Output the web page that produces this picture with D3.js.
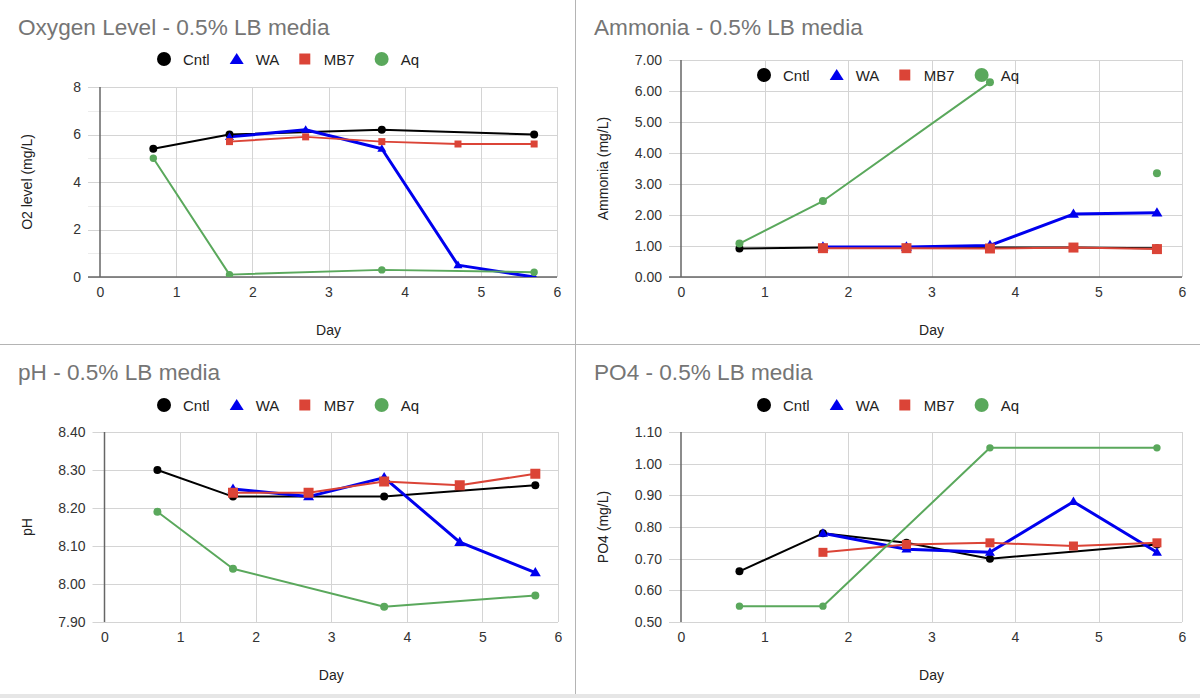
<!DOCTYPE html>
<html>
<head>
<meta charset="utf-8">
<script src="https://cdn.jsdelivr.net/npm/d3@7/dist/d3.min.js"></script>
<style>
  html, body { margin: 0; padding: 0; background: #fff; }
  svg { display: block; font-family: "Liberation Sans", Arial, sans-serif; }
</style>
</head>
<body>
<svg id="chart" width="1200" height="698"></svg>
<script>
// ---------------- DATA ----------------
const days = [0.7, 1.7, 2.7, 3.7, 4.7, 5.7];
const seriesNames = ["Cntl", "WA", "MB7", "Aq"];
const xTicks = [0, 1, 2, 3, 4, 5, 6];

// Oxygen level (mg/L)
const oxygenCntl = [5.4, 6.0, null, 6.2, null, 6.0];
const oxygenWA   = [null, 5.9, 6.2, 5.4, 0.5, 0.0];
const oxygenMB7  = [null, 5.7, 5.9, 5.7, 5.6, 5.6];
const oxygenAq   = [5.0, 0.1, null, 0.3, null, 0.2];
const oxygenTicks = [0, 2, 4, 6, 8];
const oxygenMinorTicks = [1, 3, 5, 7];

// Ammonia (mg/L)
const ammoniaCntl = [0.92, 0.95, 0.95, 0.95, 0.95, 0.93];
const ammoniaWA   = [null, 0.97, 0.97, 1.02, 2.03, 2.07];
const ammoniaMB7  = [null, 0.93, 0.93, 0.92, 0.95, 0.90];
const ammoniaAq   = [1.08, 2.45, null, 6.28, null, 3.35];
const ammoniaAqBreakBefore = [5];   // line not joined into this point
const ammoniaTicks = [0, 1, 2, 3, 4, 5, 6, 7];

// pH
const phCntl = [8.30, 8.23, null, 8.23, null, 8.26];
const phWA   = [null, 8.25, 8.23, 8.28, 8.11, 8.03];
const phMB7  = [null, 8.24, 8.24, 8.27, 8.26, 8.29];
const phAq   = [8.19, 8.04, null, 7.94, null, 7.97];
const phTicks = [7.9, 8.0, 8.1, 8.2, 8.3, 8.4];

// PO4 (mg/L)
const po4Cntl = [0.66, 0.78, 0.75, 0.70, null, 0.745];
const po4WA   = [null, 0.78, 0.73, 0.72, 0.88, 0.72];
const po4MB7  = [null, 0.72, 0.745, 0.75, 0.74, 0.75];
const po4Aq   = [0.55, 0.55, null, 1.05, null, 1.05];
const po4Ticks = [0.5, 0.6, 0.7, 0.8, 0.9, 1.0, 1.1];

// ---------------- STYLE ----------------
const colors = { Cntl: "#000000", WA: "#0000ee", MB7: "#db4437", Aq: "#5aa85c" };
const shapes = { Cntl: "circle", WA: "triangle", MB7: "square", Aq: "circle" };
const lineW  = { Cntl: 2, WA: 3, MB7: 2, Aq: 2 };

const panels = [
  { title: "Oxygen Level - 0.5% LB media", yTitle: "O2 level (mg/L)",
    data: { Cntl: oxygenCntl, WA: oxygenWA, MB7: oxygenMB7, Aq: oxygenAq },
    breaks: {}, ticks: oxygenTicks, minor: oxygenMinorTicks, fmt: d3.format("d"), baseline: true,
    px: 0, pw: 576, x0: 100, x6: 557, yTop: 87, yBot: 277, titleY: 35, legendY: 59, yTitleX: 27, xTitleY: 335,
    sizes: { Cntl: 4, WA: 9, MB7: 7, Aq: 3.7 } },
  { title: "Ammonia - 0.5% LB media", yTitle: "Ammonia (mg/L)",
    data: { Cntl: ammoniaCntl, WA: ammoniaWA, MB7: ammoniaMB7, Aq: ammoniaAq },
    breaks: { Aq: ammoniaAqBreakBefore }, ticks: ammoniaTicks, minor: [], fmt: d3.format(".2f"), baseline: true,
    px: 576, pw: 624, x0: 681, x6: 1182, yTop: 60, yBot: 277, titleY: 35, legendY: 75, yTitleX: 603, xTitleY: 335,
    sizes: { Cntl: 4, WA: 11, MB7: 10, Aq: 4 } },
  { title: "pH - 0.5% LB media", yTitle: "pH",
    data: { Cntl: phCntl, WA: phWA, MB7: phMB7, Aq: phAq },
    breaks: {}, ticks: phTicks, minor: [], fmt: d3.format(".2f"), baseline: false,
    px: 0, pw: 576, x0: 104.5, x6: 558, yTop: 432, yBot: 622, titleY: 380, legendY: 405, yTitleX: 27, xTitleY: 680,
    sizes: { Cntl: 4, WA: 11, MB7: 10, Aq: 4 } },
  { title: "PO4 - 0.5% LB media", yTitle: "PO4 (mg/L)",
    data: { Cntl: po4Cntl, WA: po4WA, MB7: po4MB7, Aq: po4Aq },
    breaks: {}, ticks: po4Ticks, minor: [], fmt: d3.format(".2f"), baseline: false,
    px: 576, pw: 624, x0: 681, x6: 1182, yTop: 432, yBot: 622, titleY: 380, legendY: 405, yTitleX: 603, xTitleY: 680,
    sizes: { Cntl: 4, WA: 10, MB7: 9, Aq: 3.7 } }
];

const svg = d3.select("#chart");

// panel separators
svg.append("line").attr("x1", 575.5).attr("x2", 575.5).attr("y1", 0).attr("y2", 698)
  .attr("stroke", "#b4b4b4").attr("stroke-width", 1);
svg.append("line").attr("x1", 0).attr("x2", 1200).attr("y1", 344.5).attr("y2", 344.5)
  .attr("stroke", "#b4b4b4").attr("stroke-width", 1);
svg.append("rect").attr("x", 0).attr("y", 694).attr("width", 1200).attr("height", 4).attr("fill", "#e6e6e6");

function markerPath(shape, size) {
  if (shape === "circle") return d3.symbol(d3.symbolCircle, Math.PI * size * size)();
  if (shape === "square") { const h = size / 2; return `M${-h},${-h}H${h}V${h}H${-h}Z`; }
  const w = size / 2, hh = size * 0.85;
  return `M0,${-hh * 0.6}L${w},${hh * 0.4}L${-w},${hh * 0.4}Z`;
}

panels.forEach((p, pi) => {
  const g = svg.append("g");
  const gridLeft = p.x0 - 12;
  const x = d3.scaleLinear().domain([0, 6]).range([p.x0, p.x6]);
  const y = d3.scaleLinear().domain([p.ticks[0], p.ticks[p.ticks.length - 1]]).range([p.yBot, p.yTop]);

  // title
  g.append("text").attr("x", p.px + 18).attr("y", p.titleY).text(p.title)
    .attr("font-size", 22.6).attr("fill", "#757575");

  // minor gridlines
  g.selectAll(null).data(p.minor).join("line")
    .attr("x1", gridLeft).attr("x2", p.x6).attr("y1", d => Math.round(y(d)) + 0.5).attr("y2", d => Math.round(y(d)) + 0.5)
    .attr("stroke", "#ececec").attr("stroke-width", 1);
  // major horizontal gridlines
  g.selectAll(null).data(p.ticks).join("line")
    .attr("x1", gridLeft).attr("x2", p.x6).attr("y1", d => Math.round(y(d)) + 0.5).attr("y2", d => Math.round(y(d)) + 0.5)
    .attr("stroke", "#d4d4d4").attr("stroke-width", 1);
  // vertical gridlines
  g.selectAll(null).data(xTicks.filter(d => d > 0)).join("line")
    .attr("x1", d => Math.round(x(d)) + 0.5).attr("x2", d => Math.round(x(d)) + 0.5)
    .attr("y1", p.yTop).attr("y2", p.yBot)
    .attr("stroke", "#d4d4d4").attr("stroke-width", 1);

  // baselines
  if (p.baseline) {
    g.append("line").attr("x1", gridLeft).attr("x2", p.x6).attr("y1", y(0)).attr("y2", y(0))
      .attr("stroke", "#666").attr("stroke-width", 1.5);
  }
  g.append("line").attr("x1", x(0)).attr("x2", x(0)).attr("y1", p.yTop).attr("y2", p.yBot)
    .attr("stroke", "#666").attr("stroke-width", 1.5);

  // y tick labels via axis
  const yAxis = d3.axisLeft(y).tickValues(p.ticks).tickFormat(p.fmt).tickSize(0).tickPadding(19);
  const ya = g.append("g").attr("transform", `translate(${p.x0},0)`).call(yAxis);
  ya.select(".domain").remove();
  ya.selectAll("text").attr("font-size", 14).attr("fill", "#333").attr("font-family", "Liberation Sans, Arial, sans-serif");

  // x tick labels via axis
  const xAxis = d3.axisBottom(x).tickValues(xTicks).tickFormat(d3.format("d")).tickSize(0).tickPadding(10);
  const xa = g.append("g").attr("transform", `translate(0,${p.yBot})`).call(xAxis);
  xa.select(".domain").remove();
  xa.selectAll("text").attr("font-size", 14).attr("fill", "#333").attr("font-family", "Liberation Sans, Arial, sans-serif");

  // axis titles
  g.append("text").attr("x", (p.x0 + p.x6) / 2).attr("y", p.xTitleY).attr("text-anchor", "middle")
    .attr("font-size", 14).attr("fill", "#222").text("Day");
  g.append("text").attr("transform", `translate(${p.yTitleX},${(p.yTop + p.yBot) / 2}) rotate(-90)`)
    .attr("text-anchor", "middle").attr("dominant-baseline", "central")
    .attr("font-size", 14).attr("fill", "#222").text(p.yTitle);

  // clip
  const clipId = "clip" + pi;
  svg.append("clipPath").attr("id", clipId).append("rect")
    .attr("x", gridLeft).attr("y", p.yTop).attr("width", p.x6 - gridLeft).attr("height", p.yBot - p.yTop);
  const plot = g.append("g").attr("clip-path", `url(#${clipId})`);

  // lines
  seriesNames.forEach(s => {
    const vals = p.data[s];
    const brk = p.breaks[s] || [];
    const pts = days.map((d, i) => ({ d, v: vals[i], i })).filter(o => o.v !== null);
    const segs = [];
    let cur = [];
    pts.forEach(o => {
      if (brk.includes(o.i) && cur.length) { segs.push(cur); cur = []; }
      cur.push(o);
    });
    if (cur.length) segs.push(cur);
    const line = d3.line().x(o => x(o.d)).y(o => y(o.v));
    segs.filter(sg => sg.length > 1).forEach(sg => {
      plot.append("path").attr("d", line(sg)).attr("fill", "none")
        .attr("stroke", colors[s]).attr("stroke-width", lineW[s]).attr("stroke-linejoin", "round");
    });
  });
  // markers
  seriesNames.forEach(s => {
    const vals = p.data[s];
    const pts = days.map((d, i) => ({ d, v: vals[i] })).filter(o => o.v !== null);
    plot.selectAll(null).data(pts).join("path")
      .attr("transform", o => `translate(${x(o.d)},${y(o.v)})`)
      .attr("d", markerPath(shapes[s], p.sizes[s]))
      .attr("fill", colors[s]);
  });

  // legend (centered in panel)
  const lg = g.append("g");
  let cursor = 0;
  seriesNames.forEach(s => {
    const halfW = shapes[s] === "square" ? 5.5 : 7;
    const mx = cursor + halfW;
    const lsize = shapes[s] === "circle" ? 7 : (shapes[s] === "triangle" ? 14 : 11);
    lg.append("path").attr("transform", `translate(${mx},${p.legendY})`)
      .attr("d", shapes[s] === "triangle" ? `M0,-6L7,5L-7,5Z` : markerPath(shapes[s], lsize))
      .attr("fill", colors[s]);
    const t = lg.append("text").attr("x", mx + 19).attr("y", p.legendY).attr("dominant-baseline", "central")
      .attr("font-size", 15).attr("fill", "#222").text(s);
    const w = t.node().getComputedTextLength();
    cursor = mx + 19 + w + 20;
  });
  const total = cursor - 20;
  lg.attr("transform", `translate(${p.px + p.pw / 2 - total / 2},0)`);
});
</script>
</body>
</html>
